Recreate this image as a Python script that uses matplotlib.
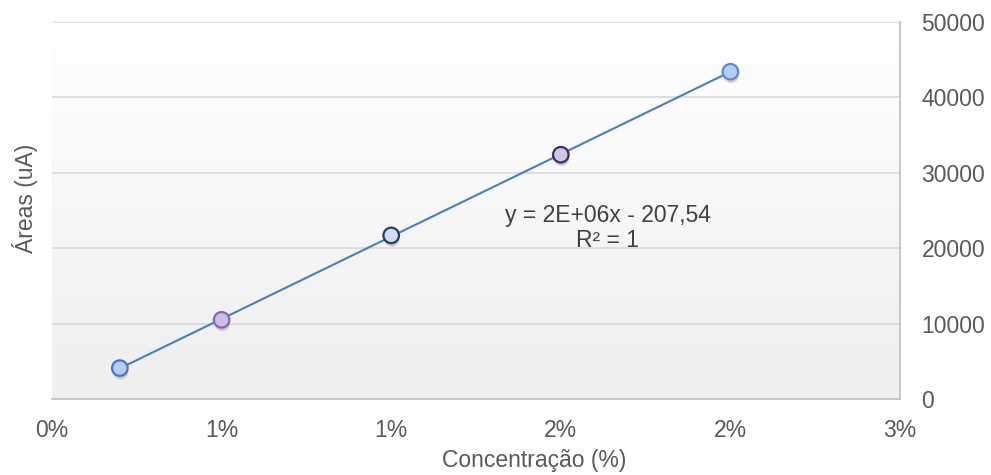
import numpy as np
import matplotlib
matplotlib.use("Agg")
import matplotlib.pyplot as plt
import matplotlib.patheffects as pe
from matplotlib.ticker import FuncFormatter

plt.rcParams['font.family'] = ['Liberation Sans', 'DejaVu Sans']

# Calibration data: concentration (fraction) vs. peak area
concentracao = [0.0024, 0.006, 0.012, 0.018, 0.024]
areas = [4100, 10500, 21700, 32400, 43400]
x_ticks = [0, 0.006, 0.012, 0.018, 0.024, 0.030]
y_ticks = [0, 10000, 20000, 30000, 40000, 50000]
equation_line = "y = 2E+06x - 207,54"
r2_line = "R² = 1"

marker_faces = ['#b4cdf7', '#cdbde6', '#d6dcef', '#cfc6e3', '#b4cdf7']
marker_edges = ['#4a78c0', '#8866b0', '#243f66', '#3e2f5a', '#5b8bd6']

FS = 16.5
W, H = 991, 475

fig = plt.figure(figsize=(W / 100, H / 100), dpi=100)
ax = fig.add_axes([52 / W, 1 - 399 / H, (900 - 52) / W, (399 - 22) / H])

# soft vertical gradient for the plot area
grad = np.linspace(1.0, 0.0, 256).reshape(-1, 1)
top = np.array([1.0, 1.0, 1.0])
bot = np.array([0.937, 0.937, 0.937])
img = grad[..., None] * top + (1 - grad[..., None]) * bot
ax.imshow(img, extent=[0, 1, 0, 1], transform=ax.transAxes, aspect='auto', zorder=0)

ax.set_xlim(0, 0.030)
ax.set_ylim(0, 50000)

# linear trendline from least squares fit
slope, intercept = np.polyfit(concentracao, areas, 1)
xs = np.array([concentracao[0], concentracao[-1]])
ax.plot(xs, slope * xs + intercept, color='#4a7ebb', lw=1.5, zorder=3)

ax.scatter(concentracao, areas, s=125, c=marker_faces, edgecolors=marker_edges,
           linewidths=1.6, zorder=4,
           path_effects=[pe.SimplePatchShadow(offset=(0.5, -2.5), alpha=0.25, shadow_rgbFace='#555555'),
                         pe.Normal()])

# horizontal gridlines
for yv in y_ticks[1:]:
    ax.axhline(yv, color='#d9d9d9', lw=1.2, zorder=1)

for side in ['top', 'left']:
    ax.spines[side].set_visible(False)
for side in ['bottom', 'right']:
    ax.spines[side].set_color('#bfbfbf')
    ax.spines[side].set_linewidth(1.2)

ax.yaxis.tick_right()
ax.set_xticks(x_ticks)
ax.set_yticks(y_ticks)
ax.xaxis.set_major_formatter(FuncFormatter(lambda v, p: f"{v * 100:.0f}%"))
ax.tick_params(axis='both', length=0, labelsize=FS, colors='#595959')
ax.tick_params(axis='x', pad=14.5)
ax.tick_params(axis='y', pad=15.5)
for lbl in ax.get_yticklabels():
    lbl.set_horizontalalignment('left')

fig.text(25 / W, 1 - 198 / H, "Áreas (uA)", rotation=90, ha='center', va='center',
         fontsize=FS, color='#595959')
fig.text(442 / W, 1 - 467 / H, "Concentração (%)", ha='left', va='baseline',
         fontsize=FS, color='#595959')
fig.text(608 / W, 1 - 221.7 / H, equation_line, ha='center', va='baseline',
         fontsize=FS, color='#404040')
fig.text(607 / W, 1 - 247 / H, r2_line, ha='center', va='baseline',
         fontsize=FS, color='#404040')

fig.savefig("out.png", dpi=100)
